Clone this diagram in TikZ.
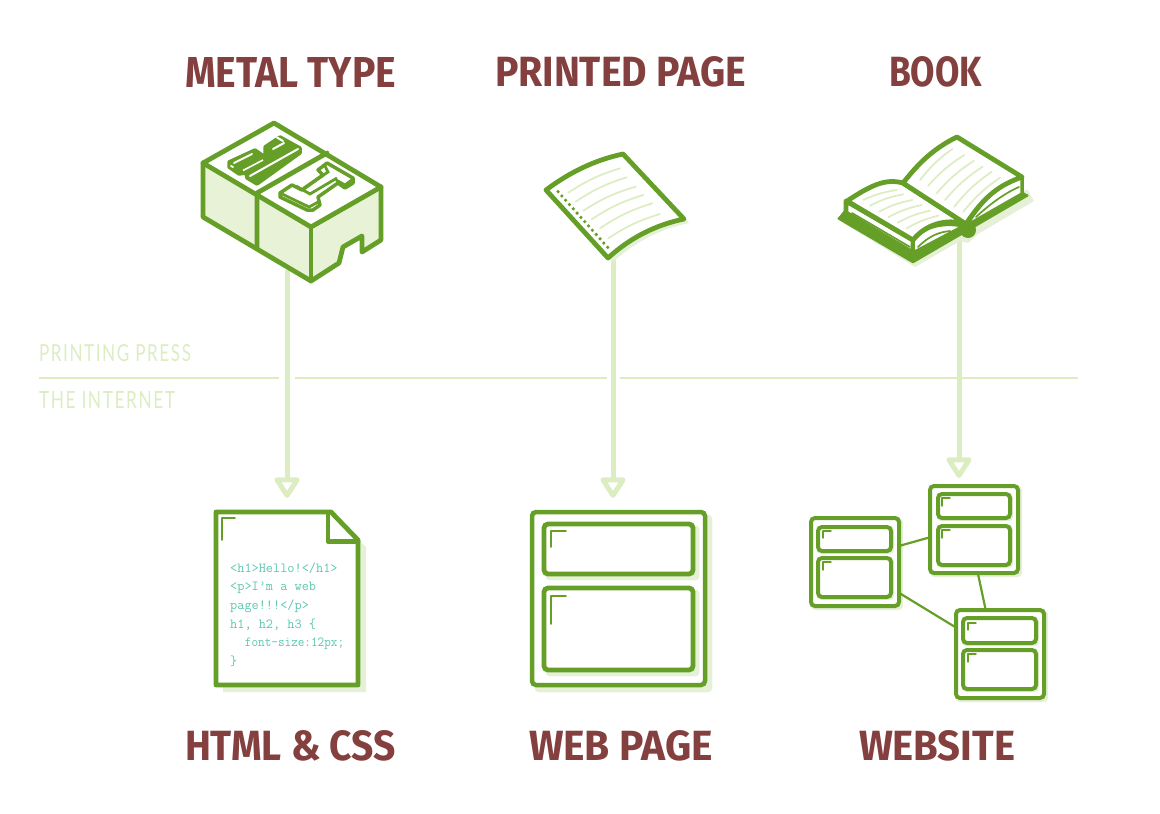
\documentclass[tikz,border=0pt]{standalone}
\usepackage{fontspec}
\usepackage{graphicx}
\usetikzlibrary{arrows.meta}
\setmainfont{Fira Sans}
\newfontfamily\thinface[LetterSpace=9]{Lato}
\definecolor{grn}{HTML}{659F27}
\definecolor{pale}{HTML}{DCEDC1}
\definecolor{sidefill}{HTML}{E8F2D6}
\definecolor{shadowc}{HTML}{E5F0D6}
\definecolor{maroon}{HTML}{843F3F}
\definecolor{teal}{HTML}{5CC8B0}
\newcommand{\ttl}[2]{\resizebox{#1pt}{30pt}{\bfseries #2}}
\newcommand{\thn}[2]{\resizebox{#1pt}{17pt}{\thinface #2}}
% name, x0, y0, x1, y1, line width, shadow offset
\newcommand{\panel}[7]{%
  \fill[shadowc,rounded corners=4pt] ({#2-#6/2+#7},{#3-#6/2+#7}) rectangle ({#4+#6/2+#7},{#5+#6/2+#7});
  \node[panelbox,line width=#6pt,minimum width={(#4-#2)*1pt},minimum height={(#5-#3)*1pt}] (#1) at ({(#2+#4)/2},{(#3+#5)/2}) {};}
\tikzset{
  panelbox/.style={draw=grn,fill=white,rounded corners=4pt,inner sep=0pt,outer sep=0pt},
  mark line/.style={grn,line width=1.7pt,line cap=round,line join=round},
  title/.style={anchor=south west,inner sep=0pt,outer sep=0pt,text=maroon},
  era/.style={anchor=south west,inner sep=0pt,outer sep=0pt,text=pale},
  divider/.style={pale,line width=2pt},
  flow/.style={pale,line width=5pt,-{Triangle[open,round,length=23pt,width=28pt,line width=5pt]}},
  ink/.style={grn,line width=4.8pt,line join=round,line cap=round},
  thin ink/.style={grn,line width=1.7pt,line cap=round},
  pageline/.style={pale,line width=1.7pt,line cap=round},
  link/.style={grn,line width=2.2pt},
  glyph/.style={grn,line width=3.5pt,line join=round},
  slit/.style={white,line width=2pt,line cap=round},
}
\begin{document}
\begin{tikzpicture}[x=1pt,y=-1pt]
\useasboundingbox (0,0) rectangle (1160,814);
% titles
\node[title] (t1) at (185,87) {\ttl{211}{METAL TYPE}};
\node[title] (t2) at (495,87) {\ttl{251}{PRINTED PAGE}};
\node[title] (t3) at (889,87) {\ttl{93}{BOOK}};
\node[title] (t4) at (185,761) {\ttl{211}{HTML \& CSS}};
\node[title] (t5) at (529,761) {\ttl{184}{WEB PAGE}};
\node[title] (t6) at (859,761) {\ttl{156}{WEBSITE}};
% era labels and divider
\node[era] (e1) at (39,362) {\thn{152}{PRINTING PRESS}};
\node[era] (e2) at (39,408) {\thn{136}{THE INTERNET}};
\coordinate (d1) at (39,378); \coordinate (d2) at (279,378);
\coordinate (d3) at (295,378); \coordinate (d4) at (607,378);
\coordinate (d5) at (620,378); \coordinate (d6) at (1078,378);
\draw[divider] (d1) -- (d2); \draw[divider] (d3) -- (d4); \draw[divider] (d5) -- (d6);
% arrows
\coordinate (from1) at (287,270); \coordinate (to1) at (287,498);
\coordinate (from2) at (613,250); \coordinate (to2) at (613,498);
\coordinate (from3) at (959,230); \coordinate (to3) at (959,478);
\draw[flow] (from1) -- (to1);
\draw[flow] (from2) -- (to2);
\draw[flow] (from3) -- (to3);
% metal type
\fill[white] (203,163) -- (274,123) -- (381,187) -- (311,227) -- cycle;
\fill[sidefill] (203,163) -- (311,227) -- (381,187) -- (381,240) -- (362,252) -- (362,236) -- (343,247) -- (339,263) -- (311,281) -- (203,217) -- cycle;
\draw[ink] (203,163) -- (274,123) -- (381,187) -- (381,240) -- (362,252) -- (362,236) -- (343,247) -- (339,263) -- (311,281) -- (203,217) -- cycle;
\draw[ink] (203,163) -- (311,227) -- (381,187);
\draw[ink] (311,227) -- (311,281);
\draw[ink] (327,153) -- (257,193) -- (257,248);
% metal glyph left
\draw[glyph,fill=grn] (229,162) -- (255,150) -- (265,157) -- (265,147) -- (280,137) -- (300,148) -- (300,153) -- (257,184) -- (247,178) -- (246,173) -- (239,174) -- (229,167) -- cycle;
\draw[slit] (234,163) -- (252,154);
\draw[slit] (250,176) -- (298,149);
\draw[slit] (273,149) -- (284,143);
\draw[slit] (277,137.5) -- (283,141);
\draw[slit] (231,166) -- (233,167);
\draw[white,line width=1.6pt] (243,170.5) -- (263,160);
% metal glyph right
\draw[glyph,fill=white] (280,193) -- (292,185) -- (302,190) -- (323,175) -- (318,170) -- (327,163) -- (353,178) -- (353,183) -- (345,188) -- (338,183) -- (318,197) -- (320,205) -- (313,210) -- (307,210) -- (280,197) -- cycle;
\draw[grn,line width=2.8pt] (280,193) -- (309,207) -- (320,201);
\draw[grn,line width=2.8pt] (325,166) -- (328,172) -- (304,188);
\draw[grn,line width=2.8pt] (336,180) -- (345,185) -- (353,179);
\draw[grn,line width=2.8pt] (296,186) -- (310,194) -- (337,178);
\draw[white,line width=1.5pt] (312,188) -- (330,176);
% printed page
\fill[shadowc,shift={(5,4)}] (546,190) .. controls (570,172) and (595,160) .. (623,154) -- (684,219) .. controls (655,225) and (630,238) .. (608,258) -- cycle;
\draw[ink,fill=white] (546,190) .. controls (570,172) and (595,160) .. (623,154) -- (684,219) .. controls (655,225) and (630,238) .. (608,258) -- cycle;
\draw[pageline] (568.3,192.7) to[bend left=8] (620,168.3);
\draw[pageline] (575.7,201.7) to[bend left=8] (626.7,177.3);
\draw[pageline] (583.3,210.7) to[bend left=8] (635.7,186.7);
\draw[pageline] (591.7,219.3) to[bend left=8] (643.3,195);
\draw[pageline] (600,228.3) to[bend left=8] (652.3,203.3);
\draw[pageline] (608.3,238.3) to[bend left=8] (660,214);
\foreach \i in {0,...,13} \fill[grn] ({558+\i*3.82},{191.7+\i*4.28}) circle (1.8);
% book
\fill[shadowc] (843,223) -- (915,267) -- (960,241) -- (968,243) -- (978,234) -- (1034,201) -- (1028,190) -- (900,200) -- cycle;
\fill[grn] (838,218) -- (913,262) -- (1028,195) -- (1020,190) -- (967,222) -- (913,240) -- (846,208) -- cycle;
\draw[grn,line width=2.5pt,line join=round] (838,218) -- (913,262) -- (1028,195);
\fill[grn] (968,230) circle (8);
\draw[ink,fill=white] (846,201) -- (846,213) -- (913,253) -- (913,240) -- cycle;
\draw[thin ink] (852,213) -- (910,247);
\draw[grn,line width=3.5pt,fill=white,line join=round] (913,240) .. controls (925,225) and (945,222) .. (964,226) -- (913,253) -- cycle;
\draw[thin ink] (918,247) .. controls (930,235) and (940,232) .. (950,231);
\draw[grn,line width=3.5pt,fill=white,line join=round] (1022,177) -- (1022,194) -- (966,226) .. controls (985,195) and (1000,185) .. (1022,177);
\draw[thin ink] (976,217) .. controls (990,204) and (1005,193) .. (1019,187);
\draw[ink,fill=white] (847,201) .. controls (870,186) and (885,178) .. (903,183) -- (966,224) .. controls (945,218) and (925,225) .. (913,240) -- cycle;
\draw[ink,fill=white] (903,183) .. controls (915,168) and (930,150) .. (957,137) -- (1022,177) .. controls (1000,185) and (985,195) .. (966,224) -- cycle;
\draw[pageline] (920,180) to[bend left=8] (952.3,149);
\draw[pageline] (928.3,185.7) to[bend left=8] (964.3,155);
\draw[pageline] (936.7,193.3) to[bend left=8] (974,160.7);
\draw[pageline] (945,200) to[bend left=8] (982.7,166.7);
\draw[pageline] (954.3,206.7) to[bend left=8] (991.7,171.7);
\draw[pageline] (963.3,211.7) to[bend left=8] (1000,177.7);
\draw[pageline] (863.3,200) to[bend left=8] (896.7,190);
\draw[pageline] (870,205.7) to[bend left=8] (903.3,194.3);
\draw[pageline] (879,211.7) to[bend left=8] (912.3,200);
\draw[pageline] (888.3,217.3) to[bend left=8] (921.7,205);
\draw[pageline] (897.7,222.7) to[bend left=8] (930,210.7);
\draw[pageline] (906.7,228.3) to[bend left=8] (938.3,215.7);
% html document
\fill[shadowc] (223,519) -- (338,519) -- (366,547) -- (366,692) -- (223,692) -- cycle;
\draw[ink,fill=white] (216,512) -- (331,512) -- (358,540) -- (358,685) -- (216,685) -- cycle;
\draw[ink] (331,512) -- (328,512) -- (328,541.5) -- (358,541.5);
\draw[mark line] (222,540) -- (222,518) -- (235,518);
\node[anchor=north west,inner sep=0pt,align=left,text=teal,font=\ttfamily\fontsize{13.9}{18.6}\selectfont] (code) at (230,562.5)
  {<h1>Hello!</h1>\\<p>I’m a web\\page!!!</p>\\h1, h2, h3 \{\\\hspace*{14.7pt}\scalebox{.925}[1]{font-size:12px;}\\\}};
% web page
\panel{pg}{532}{512}{705}{685}{4.5}{5}
\panel{pga}{544}{524}{693}{574}{4.8}{4}
\panel{pgb}{544}{588}{693}{670}{4.8}{4}
\draw[mark line] (551,547) -- (551,531) -- (566,531);
\draw[mark line] (551,624) -- (551,596) -- (566,596);
% website
\panel{sa}{811}{518}{899}{606}{4}{2}
\panel{sb}{930}{486}{1018}{573}{4}{2}
\panel{sc}{956}{610}{1044}{698}{4}{2}
\panel{sa1}{818}{527}{891}{551}{4}{1}
\panel{sa2}{818}{558}{891}{597}{4}{1}
\panel{sb1}{938}{494}{1010}{518}{4}{1}
\panel{sb2}{938}{526}{1010}{565}{4}{1}
\panel{sc1}{963}{618}{1036}{643}{4}{1}
\panel{sc2}{963}{650}{1036}{689}{4}{1}
\draw[mark line,line width=1.4pt] (823,538) -- (823,531) -- (831,531);
\draw[mark line,line width=1.4pt] (823,570) -- (823,562) -- (831,562);
\draw[mark line,line width=1.4pt] (942,506) -- (942,498) -- (950,498);
\draw[mark line,line width=1.4pt] (942,538) -- (942,530) -- (950,530);
\draw[mark line,line width=1.4pt] (968,630) -- (968,623) -- (976,623);
\draw[mark line,line width=1.4pt] (968,662) -- (968,654) -- (976,654);
\draw[link] (sa.20) -- (sb.190);
\draw[link] (sa.-35) -- (sc.149);
\draw[link] (sb.-85) -- (sc.108);
\end{tikzpicture}
\end{document}
